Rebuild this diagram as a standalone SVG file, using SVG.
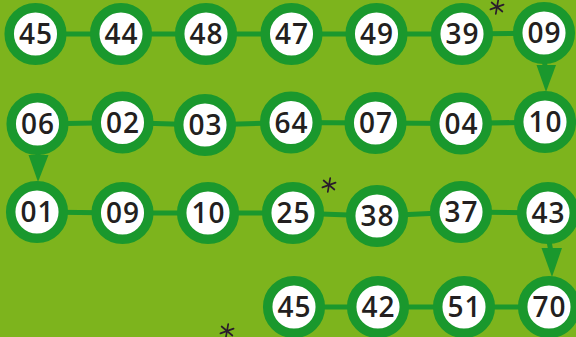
<svg xmlns="http://www.w3.org/2000/svg" width="576" height="337" viewBox="0 0 576 337">
<style>
.ring{fill:#ffffff;stroke:#1a982d;stroke-width:9.5}
.lbl{font-family:"Open Sans","Liberation Sans",sans-serif;font-weight:600;font-size:28px;fill:#231f20;text-anchor:middle;letter-spacing:1px}
.con{stroke:#1a982d;stroke-width:5;fill:none}
.head{fill:#1a982d}
.star{stroke:#2a1c2c;stroke-width:1.7;stroke-linecap:round}
</style>
<defs>
<g id="st"><line class="star" x1="0" y1="-7" x2="0" y2="7" transform="rotate(10)"/><line class="star" x1="0" y1="-7" x2="0" y2="7" transform="rotate(70)"/><line class="star" x1="0" y1="-7" x2="0" y2="7" transform="rotate(130)"/></g>
</defs>
<rect width="576" height="337" fill="#7db41d"/>
<g id="connectors">
<polyline class="con" points="35.5,34 121,34 206,34 291.5,34 376.5,34 462,34 544,33"/>
<polyline class="con" points="37.5,124 122.5,122.5 205,125 291,122.5 375.5,123 461,123.5 545,122"/>
<polyline class="con" points="37,212 122.5,213 208,213 293,213 377,216 461,212 548,213"/>
<polyline class="con" points="294,307 378,307 464,307 549,307"/>
<line class="con" x1="544.5" y1="62" x2="545.5" y2="70"/>
<polygon class="head" points="536.5,65 556,65 546,92"/>
<line class="con" x1="38" y1="152" x2="38" y2="160"/>
<polygon class="head" points="28.5,155 48.5,155 38,182"/>
<line class="con" x1="549" y1="241" x2="551" y2="252"/>
<polygon class="head" points="541.5,248 562,248 552,277"/>
</g>
<g id="n1"><circle class="ring" cx="35.5" cy="34" r="26.3"/><text class="lbl" x="36" y="44">45</text></g>
<g id="n2"><circle class="ring" cx="121" cy="34" r="26.3"/><text class="lbl" x="121.5" y="44">44</text></g>
<g id="n3"><circle class="ring" cx="206" cy="34" r="26.3"/><text class="lbl" x="206.5" y="44">48</text></g>
<g id="n4"><circle class="ring" cx="291.5" cy="34" r="26.3"/><text class="lbl" x="292" y="44">47</text></g>
<g id="n5"><circle class="ring" cx="376.5" cy="34" r="26.3"/><text class="lbl" x="377" y="44">49</text></g>
<g id="n6"><circle class="ring" cx="462" cy="34" r="26.3"/><text class="lbl" x="462.5" y="44">39</text></g>
<g id="n7"><circle class="ring" cx="544" cy="33" r="26.3"/><text class="lbl" x="544.5" y="43">09</text></g>
<g id="n8"><circle class="ring" cx="37.5" cy="124" r="26.3"/><text class="lbl" x="38" y="134">06</text></g>
<g id="n9"><circle class="ring" cx="122.5" cy="122.5" r="26.3"/><text class="lbl" x="123" y="132.5">02</text></g>
<g id="n10"><circle class="ring" cx="205" cy="125" r="26.3"/><text class="lbl" x="205.5" y="135">03</text></g>
<g id="n11"><circle class="ring" cx="291" cy="122.5" r="26.3"/><text class="lbl" x="291.5" y="132.5">64</text></g>
<g id="n12"><circle class="ring" cx="375.5" cy="123" r="26.3"/><text class="lbl" x="376" y="133">07</text></g>
<g id="n13"><circle class="ring" cx="461" cy="123.5" r="26.3"/><text class="lbl" x="461.5" y="133.5">04</text></g>
<g id="n14"><circle class="ring" cx="545" cy="122" r="26.3"/><text class="lbl" x="545.5" y="132">10</text></g>
<g id="n15"><circle class="ring" cx="37" cy="212" r="26.3"/><text class="lbl" x="37.5" y="222">01</text></g>
<g id="n16"><circle class="ring" cx="122.5" cy="213" r="26.3"/><text class="lbl" x="123" y="223">09</text></g>
<g id="n17"><circle class="ring" cx="208" cy="213" r="26.3"/><text class="lbl" x="208.5" y="223">10</text></g>
<g id="n18"><circle class="ring" cx="293" cy="213" r="26.3"/><text class="lbl" x="293.5" y="223">25</text></g>
<g id="n19"><circle class="ring" cx="377" cy="216" r="26.3"/><text class="lbl" x="377.5" y="226">38</text></g>
<g id="n20"><circle class="ring" cx="461" cy="212" r="26.3"/><text class="lbl" x="461.5" y="222">37</text></g>
<g id="n21"><circle class="ring" cx="548" cy="213" r="26.3"/><text class="lbl" x="548.5" y="223">43</text></g>
<g id="n22"><circle class="ring" cx="294" cy="307" r="26.3"/><text class="lbl" x="294.5" y="317">45</text></g>
<g id="n23"><circle class="ring" cx="378" cy="307" r="26.3"/><text class="lbl" x="378.5" y="317">42</text></g>
<g id="n24"><circle class="ring" cx="464" cy="307" r="26.3"/><text class="lbl" x="464.5" y="317">51</text></g>
<g id="n25"><circle class="ring" cx="549" cy="307" r="26.3"/><text class="lbl" x="549.5" y="317">70</text></g>
<g id="stars">
<use href="#st" x="497" y="7"/>
<use href="#st" x="329" y="185"/>
<use href="#st" x="227" y="331"/>
</g>
</svg>
